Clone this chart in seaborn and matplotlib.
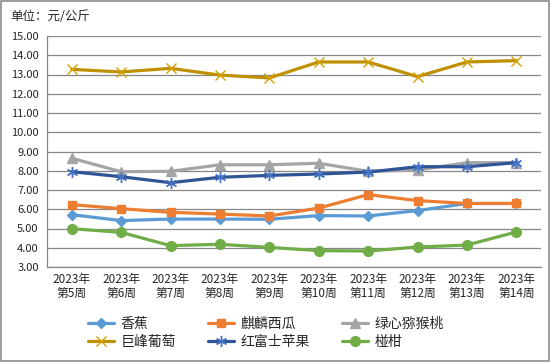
import pandas as pd
import matplotlib.pyplot as plt
import seaborn as sns
import numpy as np

# data
weeks = ["2023年\n第5周", "2023年\n第6周", "2023年\n第7周", "2023年\n第8周", "2023年\n第9周",
         "2023年\n第10周", "2023年\n第11周", "2023年\n第12周", "2023年\n第13周", "2023年\n第14周"]
banana = [5.72, 5.41, 5.49, 5.49, 5.48, 5.67, 5.65, 5.93, 6.30, 6.30]
watermelon = [6.24, 6.03, 5.84, 5.75, 5.65, 6.06, 6.76, 6.45, 6.30, 6.30]
kiwi = [8.65, 7.95, 7.97, 8.31, 8.31, 8.39, 7.97, 8.04, 8.42, 8.42]
grape = [13.27, 13.13, 13.32, 12.97, 12.82, 13.65, 13.65, 12.89, 13.65, 13.72]
apple = [7.95, 7.69, 7.38, 7.66, 7.76, 7.83, 7.93, 8.21, 8.21, 8.42]
citrus = [4.99, 4.80, 4.11, 4.18, 4.02, 3.85, 3.83, 4.04, 4.14, 4.82]

names = ["香蕉", "麒麟西瓜", "绿心猕猴桃", "巨峰葡萄", "红富士苹果", "椪柑"]
series = [banana, watermelon, kiwi, grape, apple, citrus]

# (line color, marker, marker color, marker size)
styles = [
    ("#5B9BD5", "D", "#5B9BD5", 5),
    ("#ED7D31", "s", "#ED7D31", 5.5),
    ("#A5A5A5", "^", "#A5A5A5", 7),
    ("#BF9000", "x", "#D4A000", 7),
    ("#2F5597", (6, 2, 0), "#4472C4", 8),
    ("#70AD47", "o", "#70AD47", 7),
]

sns.set_style("white")
plt.rcParams['font.family'] = ['Noto Sans CJK SC', 'DejaVu Sans']

fig = plt.figure(figsize=(5.5, 3.62), dpi=100)
ax = fig.add_axes([47 / 550, 1 - 267 / 362, (541 - 47) / 550, (267 - 36) / 362])

x = np.arange(len(weeks))
for name, vals, (lc, mk, mc, ms) in zip(names, series, styles):
    sns.lineplot(x=x, y=vals, ax=ax, color=lc, linewidth=2.3, marker=mk,
                 markersize=ms, markerfacecolor=mc, markeredgecolor=mc,
                 markeredgewidth=1.0, label=name)

ax.set_ylim(3, 15)
ax.set_yticks(np.arange(3, 15.01, 1))
ax.set_yticklabels([f"{v:.2f}" for v in np.arange(3, 15.01, 1)])
ax.set_xlim(-0.5, len(weeks) - 0.5)
ax.set_xticks(np.arange(-0.5, len(weeks), 1))
ax.set_xticklabels([])
ax.set_xticks(x, minor=True)
ax.set_xticklabels(weeks, minor=True)
ax.tick_params(axis='x', which='minor', length=0, labelsize=8.5, pad=4)
ax.tick_params(axis='x', which='major', length=4, color='#878787', direction='out')
ax.tick_params(axis='y', length=4, color='#878787', direction='out', labelsize=8, pad=2)
for lbl in ax.get_xticklabels(minor=True):
    lbl.set_linespacing(1.1)

ax.grid(axis='y', color='#878787', linewidth=0.9)
ax.set_axisbelow(True)
for s in ['top', 'right']:
    ax.spines[s].set_visible(False)
for s in ['left', 'bottom']:
    ax.spines[s].set_color('#878787')
    ax.spines[s].set_linewidth(0.9)

h, l = ax.get_legend_handles_labels()
ax.get_legend().remove()
order = [0, 3, 1, 4, 2, 5]
fig.legend([h[i] for i in order], [l[i] for i in order], ncol=3, frameon=False,
           loc='center', bbox_to_anchor=(266 / 550, 1 - 333 / 362), fontsize=10,
           handlelength=1.9, columnspacing=2.3, labelspacing=0.3, handletextpad=0.45)

fig.text(10 / 550, 1 - 16 / 362, "单位：元/公斤", fontsize=9, va='center', ha='left')
fig.add_artist(plt.Rectangle((0.001, 0.002), 0.997, 0.995, transform=fig.transFigure,
                             fill=False, edgecolor='#8C8C8C', linewidth=1.2))

fig.savefig("out.png", dpi=100)
